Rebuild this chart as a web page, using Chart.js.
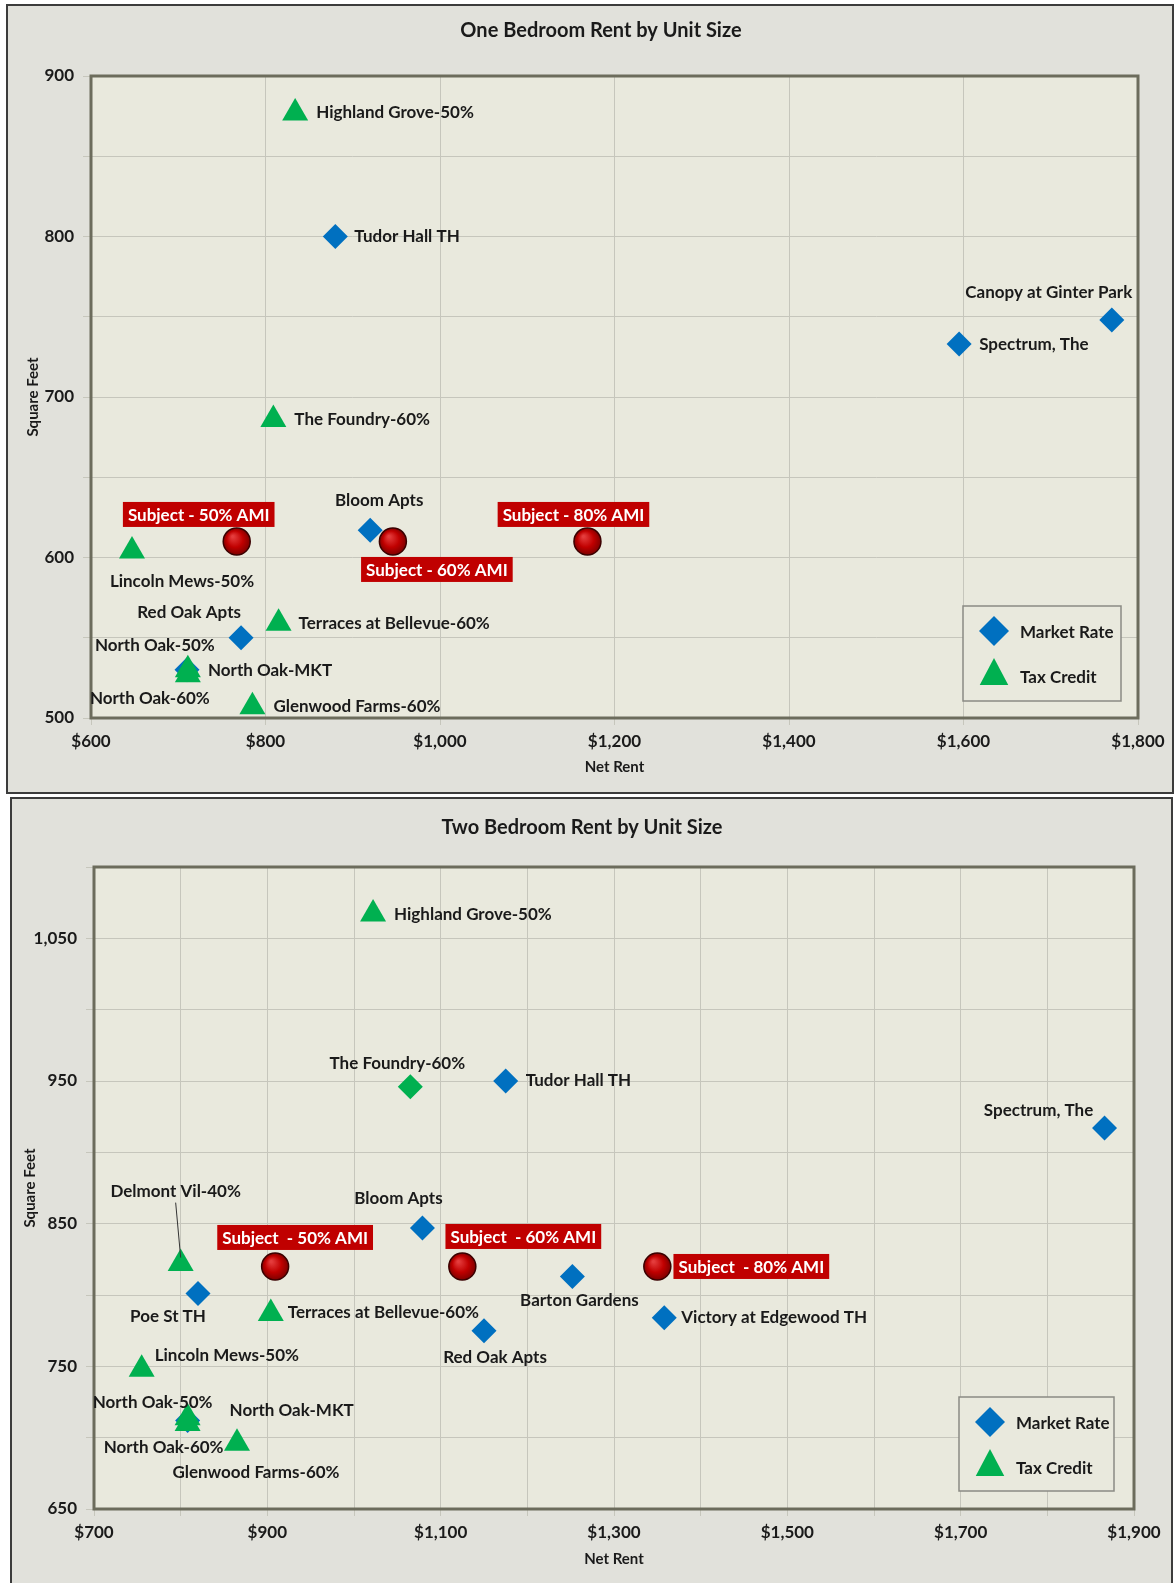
<!DOCTYPE html>
<html>
<head>
<meta charset="utf-8">
<script src="https://cdn.jsdelivr.net/npm/chart.js@4/dist/chart.umd.min.js"></script>
<style>
body { margin: 0; background: #fff; width: 1175px; height: 1583px; position: relative; overflow: hidden; }
.panel { position: absolute; box-sizing: border-box; border: 2px solid #3c3c3c; background: #e1e1db; }
#p1 { left: 6px; top: 4px; width: 1168px; height: 790px; }
#p2 { left: 10px; top: 797px; width: 1163px; height: 792px; }
canvas { display: block; }
</style>
</head>
<body>
<div class="panel" id="p1"><canvas id="c1" width="1164" height="786" style="width:1164px;height:786px"></canvas></div>
<div class="panel" id="p2"><canvas id="c2" width="1159" height="786" style="width:1159px;height:786px"></canvas></div>
<script>
// ==================== DATA: ONE BEDROOM ====================
const oneMarketNames = ['Tudor Hall TH', 'Canopy at Ginter Park', 'Spectrum, The', 'Bloom Apts', 'Red Oak Apts', 'North Oak-MKT'];
const oneMarketRent  = [880, 1770, 1595, 920, 772, 710];
const oneMarketSqft  = [800, 748, 733, 617, 550, 530];

const oneTaxNames = ['Highland Grove-50%', 'The Foundry-60%', 'Lincoln Mews-50%', 'Terraces at Bellevue-60%', 'North Oak-50%', 'North Oak-60%', 'Glenwood Farms-60%'];
const oneTaxRent  = [834, 809, 647, 815, 711, 711, 785];
const oneTaxSqft  = [877, 686, 604, 559, 530, 527, 507];

const oneSubjectNames = ['Subject - 50% AMI', 'Subject - 60% AMI', 'Subject - 80% AMI'];
const oneSubjectRent  = [767, 946, 1169];
const oneSubjectSqft  = [610, 610, 610];

const oneXLabels = ['$600', '$800', '$1,000', '$1,200', '$1,400', '$1,600', '$1,800'];
const oneYLabels = ['500', '600', '700', '800', '900'];

// ==================== DATA: TWO BEDROOM ====================
const twoMarketNames = ['Tudor Hall TH', 'Spectrum, The', 'Bloom Apts', 'Barton Gardens', 'Poe St TH', 'Red Oak Apts', 'Victory at Edgewood TH', 'North Oak-MKT'];
const twoMarketRent  = [1175, 1866, 1079, 1252, 820, 1150, 1358, 808];
const twoMarketSqft  = [950, 917, 847, 813, 801, 775, 784, 712];

const twoTaxNames = ['Highland Grove-50%', 'The Foundry-60%', 'Delmont Vil-40%', 'Terraces at Bellevue-60%', 'Lincoln Mews-50%', 'North Oak-50%', 'North Oak-60%', 'Glenwood Farms-60%'];
const twoTaxRent  = [1022, 1065, 800, 904, 755, 808, 808, 865];
const twoTaxSqft  = [1067, 946, 822, 787, 748, 714, 710, 696];

const twoSubjectNames = ['Subject  - 50% AMI', 'Subject  - 60% AMI', 'Subject  - 80% AMI'];
const twoSubjectRent  = [909, 1125, 1350];
const twoSubjectSqft  = [820, 820, 820];

const twoXLabels = ['$700', '$900', '$1,100', '$1,300', '$1,500', '$1,700', '$1,900'];
const twoYLabels = ['650', '750', '850', '950', '1,050'];

// label placement relative to each marker: [dx, dy, align, leader line]
const onePlace = {
    'Highland Grove-50%': [21, 0, 'left'],
    'Tudor Hall TH': [19, 0, 'left'],
    'Canopy at Ginter Park': [-63, -27, 'center'],
    'Spectrum, The': [20, 0, 'left'],
    'The Foundry-60%': [21, 0, 'left'],
    'Bloom Apts': [9, -30, 'center'],
    'Subject - 50% AMI': [-38, -27, 'center'],
    'Subject - 60% AMI': [44, 28, 'center'],
    'Subject - 80% AMI': [-14, -27, 'center'],
    'Lincoln Mews-50%': [50, 30, 'center'],
    'Red Oak Apts': [-52, -25, 'center'],
    'Terraces at Bellevue-60%': [20, 0, 'left'],
    'North Oak-50%': [-33, -24, 'center'],
    'North Oak-MKT': [21, 1, 'left'],
    'North Oak-60%': [-38, 24, 'center'],
    'Glenwood Farms-60%': [21, 0, 'left']
};

const twoPlace = {
    'Highland Grove-50%': [21, 0, 'left'],
    'The Foundry-60%': [-13, -23, 'center'],
    'Tudor Hall TH': [20, 0, 'left'],
    'Spectrum, The': [-66, -18, 'center'],
    'Delmont Vil-40%': [-5, -72, 'center', true],
    'Bloom Apts': [-24, -29, 'center'],
    'Subject  - 50% AMI': [20, -29, 'center'],
    'Subject  - 60% AMI': [61, -30, 'center'],
    'Subject  - 80% AMI': [94, 0, 'center'],
    'Barton Gardens': [7, 24, 'center'],
    'Poe St TH': [-30, 23, 'center'],
    'Terraces at Bellevue-60%': [17, -1, 'left'],
    'Victory at Edgewood TH': [17, 0, 'left'],
    'Red Oak Apts': [11, 27, 'center'],
    'Lincoln Mews-50%': [13, -14, 'left'],
    'North Oak-50%': [-35, -15, 'center'],
    'North Oak-MKT': [42, -10, 'left'],
    'North Oak-60%': [-24, 24, 'center'],
    'Glenwood Farms-60%': [19, 29, 'center']
};

const BLUE = '#0070c0';
const GREEN = '#00b050';
const RED = '#c00000';
const FAMILY = 'Lato, "Open Sans", sans-serif';
const LABEL_FONT = 'bold 17px ' + FAMILY;

function pts(rent, sqft) {
    return rent.map((v, i) => ({ x: v, y: sqft[i] }));
}

// shaded red ball like the original subject markers
function subjectFill(c) {
    const ch = c.chart;
    if (!ch.chartArea || !c.raw || !ch.scales.x) return RED;
    const x = ch.scales.x.getPixelForValue(c.raw.x);
    const y = ch.scales.y.getPixelForValue(c.raw.y);
    const g = ch.ctx.createRadialGradient(x - 4, y - 5, 1, x, y, 14);
    g.addColorStop(0, '#e43c3c');
    g.addColorStop(0.55, '#c00000');
    g.addColorStop(1, '#7a0000');
    return g;
}

// ==================== PLUGINS ====================
const plotFrame = {
    id: 'plotFrame',
    beforeDraw(chart) {
        const a = chart.chartArea;
        const ctx = chart.ctx;
        ctx.save();
        ctx.fillStyle = '#e9e9dd';
        ctx.fillRect(a.left, a.top, a.right - a.left, a.bottom - a.top);
        ctx.restore();
    },
    beforeDatasetsDraw(chart) {
        const a = chart.chartArea;
        const ctx = chart.ctx;
        ctx.save();
        ctx.strokeStyle = '#6c6c5c';
        ctx.lineWidth = 3;
        ctx.strokeRect(a.left, a.top, a.right - a.left, a.bottom - a.top);
        ctx.restore();
    }
};

const panelTitle = {
    id: 'panelTitle',
    afterDraw(chart, args, opts) {
        const ctx = chart.ctx;
        ctx.save();
        ctx.font = 'bold 20px ' + FAMILY;
        ctx.fillStyle = '#1a1a1a';
        ctx.textAlign = 'center';
        ctx.textBaseline = 'middle';
        ctx.fillText(opts.text, opts.x, opts.y);
        ctx.restore();
    }
};

const pointLabels = {
    id: 'pointLabels',
    afterDatasetsDraw(chart, args, opts) {
        const ctx = chart.ctx;
        ctx.save();
        ctx.font = LABEL_FONT;
        ctx.textBaseline = 'middle';
        chart.data.datasets.forEach((ds, di) => {
            const meta = chart.getDatasetMeta(di);
            meta.data.forEach((el, i) => {
                const name = ds.names[i];
                const p = opts.place[name];
                if (!p) return;
                const x = el.x + p[0];
                const y = el.y + p[1];
                if (ds.boxed) {
                    const w = ctx.measureText(name).width + 10;
                    ctx.fillStyle = RED;
                    ctx.fillRect(x - w / 2, y - 12.5, w, 25);
                    ctx.fillStyle = '#ffffff';
                    ctx.textAlign = 'center';
                    ctx.fillText(name, x, y + 1);
                    return;
                }
                if (p[3]) {
                    ctx.strokeStyle = '#333';
                    ctx.lineWidth = 1;
                    ctx.beginPath();
                    ctx.moveTo(x, y + 11);
                    ctx.lineTo(el.x, el.y - 6);
                    ctx.stroke();
                }
                ctx.fillStyle = '#1a1a1a';
                ctx.textAlign = p[2];
                ctx.fillText(name, x, y);
            });
        });
        ctx.restore();
    }
};

function drawDiamond(ctx, x, y, r, color) {
    ctx.beginPath();
    ctx.moveTo(x, y - r);
    ctx.lineTo(x + r, y);
    ctx.lineTo(x, y + r);
    ctx.lineTo(x - r, y);
    ctx.closePath();
    ctx.fillStyle = color;
    ctx.fill();
}

function drawTriangle(ctx, x, y, r, color) {
    ctx.beginPath();
    ctx.moveTo(x, y - r);
    ctx.lineTo(x + r * 0.95, y + r * 0.8);
    ctx.lineTo(x - r * 0.95, y + r * 0.8);
    ctx.closePath();
    ctx.fillStyle = color;
    ctx.fill();
}

const boxLegend = {
    id: 'boxLegend',
    afterDraw(chart, args, opts) {
        const a = chart.chartArea;
        const ctx = chart.ctx;
        const left = a.right - opts.right - opts.w;
        const top = a.bottom - opts.bottom - opts.h;
        ctx.save();
        ctx.fillStyle = '#e9e9dd';
        ctx.fillRect(left, top, opts.w, opts.h);
        ctx.strokeStyle = '#8a8a84';
        ctx.lineWidth = 1.5;
        ctx.strokeRect(left, top, opts.w, opts.h);
        drawDiamond(ctx, left + 31, top + 25, 15, BLUE);
        drawTriangle(ctx, left + 31, top + 67, 15, GREEN);
        ctx.font = LABEL_FONT;
        ctx.fillStyle = '#1a1a1a';
        ctx.textAlign = 'left';
        ctx.textBaseline = 'middle';
        ctx.fillText('Market Rate', left + 57, top + 27);
        ctx.fillText('Tax Credit', left + 57, top + 72);
        ctx.restore();
    }
};

// ==================== CHART BUILDER ====================
function buildChart(canvasId, cfg) {
    const tickFont = { family: FAMILY, size: 17, weight: 'bold' };
    const titleFont = { family: FAMILY, size: 15, weight: 'bold' };
    return new Chart(document.getElementById(canvasId), {
        type: 'scatter',
        data: {
            datasets: [
                {
                    label: 'Subject',
                    names: cfg.subjectNames,
                    boxed: true,
                    data: pts(cfg.subjectRent, cfg.subjectSqft),
                    pointStyle: 'circle',
                    pointRadius: 13.5,
                    backgroundColor: subjectFill,
                    borderColor: '#3a0000',
                    borderWidth: 1.5,
                    clip: false
                },
                {
                    label: 'Tax Credit',
                    names: cfg.taxNames,
                    data: pts(cfg.taxRent, cfg.taxSqft),
                    pointStyle: (c) => (cfg.taxDiamonds.includes(cfg.taxNames[c.dataIndex]) ? 'rectRot' : 'triangle'),
                    pointRadius: (c) => (cfg.taxDiamonds.includes(cfg.taxNames[c.dataIndex]) ? 12.5 : 15),
                    backgroundColor: GREEN,
                    borderWidth: 0,
                    clip: false
                },
                {
                    label: 'Market Rate',
                    names: cfg.marketNames,
                    data: pts(cfg.marketRent, cfg.marketSqft),
                    pointStyle: 'rectRot',
                    pointRadius: 12.5,
                    backgroundColor: BLUE,
                    borderWidth: 0,
                    clip: false
                }
            ]
        },
        options: {
            responsive: false,
            animation: false,
            events: [],
            layout: { padding: { top: cfg.padTop, right: cfg.padRight, left: 0, bottom: 0 } },
            plugins: {
                legend: { display: false },
                tooltip: { enabled: false },
                panelTitle: { text: cfg.title, x: cfg.titleX, y: cfg.titleY },
                pointLabels: { place: cfg.place },
                boxLegend: cfg.legend
            },
            scales: {
                x: {
                    type: 'linear',
                    min: cfg.xMin,
                    max: cfg.xMax,
                    afterFit: (s) => { s.height = cfg.xAxisHeight; },
                    border: { display: false },
                    grid: { color: '#c6c6bc', lineWidth: 1, tickLength: 7 },
                    ticks: {
                        stepSize: cfg.xStep,
                        font: tickFont,
                        color: '#1a1a1a',
                        padding: 6,
                        maxRotation: 0,
                        autoSkip: false,
                        callback: (v, i) => (i % cfg.xEvery === 0 ? cfg.xLabels[i / cfg.xEvery] : '')
                    },
                    title: { display: true, text: 'Net Rent', font: titleFont, color: '#1a1a1a', padding: { top: 0, bottom: cfg.xTitlePad } }
                },
                y: {
                    type: 'linear',
                    min: cfg.yMin,
                    max: cfg.yMax,
                    afterFit: (s) => { s.width = cfg.yAxisWidth; },
                    border: { display: false },
                    grid: { color: '#c6c6bc', lineWidth: 1, tickLength: 8 },
                    ticks: {
                        stepSize: 50,
                        font: tickFont,
                        color: '#1a1a1a',
                        padding: 9,
                        autoSkip: false,
                        callback: (v, i) => (i % 2 === 0 ? cfg.yLabels[i / 2] : '')
                    },
                    title: { display: true, text: 'Square Feet', font: titleFont, color: '#1a1a1a', padding: { top: cfg.yTitlePad, bottom: 0 } }
                }
            }
        },
        plugins: [plotFrame, pointLabels, boxLegend, panelTitle]
    });
}

buildChart('c1', {
    title: 'One Bedroom Rent by Unit Size', titleX: 593, titleY: 25,
    marketNames: oneMarketNames, marketRent: oneMarketRent, marketSqft: oneMarketSqft,
    taxNames: oneTaxNames, taxRent: oneTaxRent, taxSqft: oneTaxSqft, taxDiamonds: [],
    subjectNames: oneSubjectNames, subjectRent: oneSubjectRent, subjectSqft: oneSubjectSqft,
    xMin: 600, xMax: 1800, xStep: 200, xEvery: 1, xLabels: oneXLabels,
    yMin: 500, yMax: 900, yLabels: oneYLabels,
    padTop: 70, padRight: 34, yAxisWidth: 83, xAxisHeight: 74,
    xTitlePad: 16, yTitlePad: 16,
    place: onePlace,
    legend: { right: 17, bottom: 17, w: 158, h: 95 }
});

buildChart('c2', {
    title: 'Two Bedroom Rent by Unit Size', titleX: 570, titleY: 29,
    marketNames: twoMarketNames, marketRent: twoMarketRent, marketSqft: twoMarketSqft,
    taxNames: twoTaxNames, taxRent: twoTaxRent, taxSqft: twoTaxSqft, taxDiamonds: ['The Foundry-60%'],
    subjectNames: twoSubjectNames, subjectRent: twoSubjectRent, subjectSqft: twoSubjectSqft,
    xMin: 700, xMax: 1900, xStep: 100, xEvery: 2, xLabels: twoXLabels,
    yMin: 650, yMax: 1100, yLabels: twoYLabels,
    padTop: 68, padRight: 37, yAxisWidth: 82, xAxisHeight: 76,
    xTitlePad: 17, yTitlePad: 9,
    place: twoPlace,
    legend: { right: 20, bottom: 18, w: 155, h: 94 }
});
</script>
</body>
</html>
